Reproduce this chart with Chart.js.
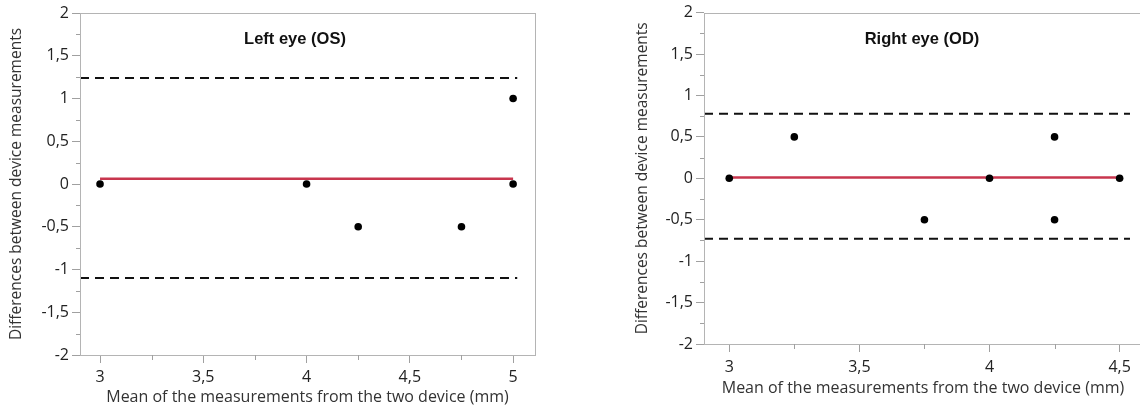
<!DOCTYPE html>
<html><head><meta charset="utf-8">
<script src="https://cdn.jsdelivr.net/npm/chart.js@4/dist/chart.umd.min.js"></script>
<style>
html,body{margin:0;padding:0;background:#fff;width:1140px;height:410px;overflow:hidden;position:relative}
.wrap{position:absolute;top:0;height:410px}
#w1{left:0;width:560px}
#w2{left:600px;width:546px}
.ttl{position:absolute;font:bold 16.5px "Liberation Sans",Arial,sans-serif;color:#111;white-space:nowrap;transform:translate(-50%,-50%)}
</style></head><body>
<div class="wrap" id="w1"><canvas id="c1"></canvas></div>
<div class="wrap" id="w2"><canvas id="c2"></canvas></div>
<div class="ttl" id="t1" style="left:295px;top:38px"></div>
<div class="ttl" id="t2" style="left:922px;top:38px"></div>
<script>
// ---- data ----
const leftTitle = "Left eye (OS)";
const rightTitle = "Right eye (OD)";
const yTitle = "Differences between device measurements";
const xTitle = "Mean of the measurements from the two device (mm)";

const leftX = [3, 4, 4.25, 4.75, 5, 5];
const leftY = [0, 0, -0.5, -0.5, 1, 0];
const leftMean = 0.06;
const leftUpper = 1.24;
const leftLower = -1.10;

const rightX = [3, 3.25, 3.75, 4, 4.25, 4.25, 4.5];
const rightY = [0, 0.5, -0.5, 0, 0.5, -0.5, 0];
const rightMean = 0.01;
const rightUpper = 0.78;
const rightLower = -0.73;

const yTicks = [-2, -1.5, -1, -0.5, 0, 0.5, 1, 1.5, 2];
const leftXTicks = [3, 3.5, 4, 4.5, 5];
const rightXTicks = [3, 3.5, 4, 4.5];

const leftXRange = [2.903, 5.106];
const rightXRange = [2.903, 4.586];
const leftDashEnd = 5.02;
const rightDashEnd = 4.54;

document.getElementById('t1').textContent = leftTitle;
document.getElementById('t2').textContent = rightTitle;

const fmt = v => String(v).replace('.', ',');
const FONT = 'Open Sans';

const frame = {
  id: 'frame',
  afterDatasetsDraw(chart) {
    const {ctx, chartArea: a} = chart;
    ctx.save();
    ctx.strokeStyle = '#b4b4b4';
    ctx.lineWidth = 1;
    ctx.strokeRect(Math.round(a.left) + 0.5, Math.round(a.top) + 0.5,
      Math.round(a.right) - Math.round(a.left), Math.round(a.bottom) - Math.round(a.top));
    // minor ticks
    ctx.strokeStyle = '#a0a0a0';
    const ys = chart.scales.y, xs = chart.scales.x;
    for (let i = 0; i < ys.ticks.length - 1; i++) {
      const p = Math.round(ys.getPixelForValue((ys.ticks[i].value + ys.ticks[i + 1].value) / 2)) + 0.5;
      ctx.beginPath(); ctx.moveTo(a.left - 4, p); ctx.lineTo(a.left, p); ctx.stroke();
    }
    for (let i = 0; i < xs.ticks.length - 1; i++) {
      const p = Math.round(xs.getPixelForValue((xs.ticks[i].value + xs.ticks[i + 1].value) / 2)) + 0.5;
      ctx.beginPath(); ctx.moveTo(p, a.bottom); ctx.lineTo(p, a.bottom + 5); ctx.stroke();
    }
    ctx.restore();
  }
};

function makeChart(id, cfg) {
  const lines = [
    {data: [{x: cfg.xRange[0], y: cfg.upper}, {x: cfg.dashEnd, y: cfg.upper}], borderDash: [9, 6], borderColor: '#111', borderWidth: 2},
    {data: [{x: cfg.xRange[0], y: cfg.lower}, {x: cfg.dashEnd, y: cfg.lower}], borderDash: [9, 6], borderColor: '#111', borderWidth: 2},
    {data: [{x: Math.min(...cfg.xs), y: cfg.mean}, {x: Math.max(...cfg.xs), y: cfg.mean}], borderColor: '#c8364e', borderWidth: 2.5}
  ].map(d => Object.assign(d, {showLine: true, pointRadius: 0, order: 2, fill: false}));
  const pts = {
    data: cfg.xs.map((x, i) => ({x, y: cfg.ys[i]})),
    pointRadius: 3.8, pointBackgroundColor: '#000', pointBorderColor: '#000', pointBorderWidth: 0,
    showLine: false, order: 0
  };
  return new Chart(document.getElementById(id), {
    type: 'scatter',
    data: {datasets: [pts, ...lines]},
    options: {
      responsive: true, maintainAspectRatio: false, animation: false,
      layout: {padding: cfg.padding},
      plugins: {legend: {display: false}, tooltip: {enabled: false}},
      scales: {
        x: {
          type: 'linear', min: cfg.xRange[0], max: cfg.xRange[1],
          afterBuildTicks: s => { s.ticks = cfg.xTicks.map(v => ({value: v})); },
          afterFit: s => { s.height = cfg.xHeight; },
          border: {display: false},
          grid: {drawOnChartArea: false, drawTicks: true, tickLength: 8, color: '#a0a0a0'},
          ticks: {callback: v => fmt(v), color: '#222', padding: cfg.xTickPad, maxRotation: 0, font: {family: FONT, size: 16}},
          title: {display: true, text: xTitle, color: '#333', font: {family: FONT, size: 16}, padding: {top: 0, bottom: cfg.xTitlePad}}
        },
        y: {
          type: 'linear', min: -2, max: 2,
          afterBuildTicks: s => { s.ticks = yTicks.map(v => ({value: v})); },
          afterFit: s => { s.width = cfg.yWidth; },
          border: {display: false},
          grid: {drawOnChartArea: false, drawTicks: true, tickLength: 8, color: '#a0a0a0'},
          ticks: {callback: v => fmt(v), color: '#222', padding: 3, font: {family: FONT, size: 16}},
          title: {display: true, text: yTitle, color: '#333', font: {family: FONT, size: 15.5}, padding: {top: cfg.yTitlePad, bottom: 0}}
        }
      }
    },
    plugins: [frame]
  });
}

makeChart('c1', {
  xs: leftX, ys: leftY, mean: leftMean, upper: leftUpper, lower: leftLower,
  xTicks: leftXTicks, xRange: leftXRange, dashEnd: leftDashEnd,
  padding: {top: 13, right: 25, bottom: 0, left: 0},
  xHeight: 55, yWidth: 80, xTitlePad: 3, yTitlePad: 7, xTickPad: 5
});
makeChart('c2', {
  xs: rightX, ys: rightY, mean: rightMean, upper: rightUpper, lower: rightLower,
  xTicks: rightXTicks, xRange: rightXRange, dashEnd: rightDashEnd,
  padding: {top: 12, right: 3, bottom: 0, left: 0},
  xHeight: 66, yWidth: 104, xTitlePad: 12, yTitlePad: 33, xTickPad: 6
});
</script>
</body></html>
